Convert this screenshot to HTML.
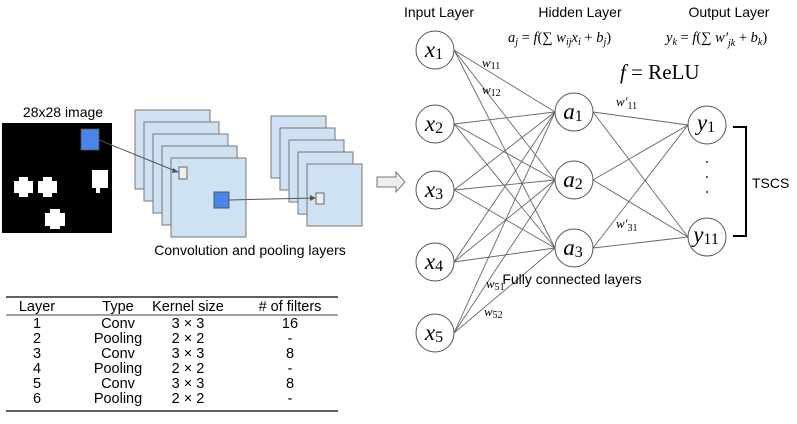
<!DOCTYPE html>
<html><head><meta charset="utf-8"><style>
body{margin:0;background:#fff}
svg{display:block}
.s{font-family:"Liberation Sans",sans-serif}
.m{font-family:"Liberation Serif",serif;font-style:italic}
.r{font-family:"Liberation Serif",serif}
</style></head><body>
<svg width="797" height="424" viewBox="0 0 797 424" xmlns="http://www.w3.org/2000/svg">
<text x="63" y="117" class="s" font-size="14" text-anchor="middle">28x28 image</text>
<rect x="2" y="123" width="110" height="110" fill="#000"/>
<rect x="81" y="129" width="18" height="21" fill="#4a86e8" stroke="#555" stroke-width="0.8"/>
<g fill="#fff">
<rect x="14" y="181" width="19" height="12"/><rect x="19" y="177" width="9" height="20"/>
<rect x="38" y="181" width="19" height="12"/><rect x="43" y="177" width="9" height="20"/>
<rect x="92" y="170" width="16" height="18"/><rect x="96" y="188" width="4" height="5"/>
<rect x="45" y="213" width="20" height="13"/><rect x="50" y="209" width="10" height="20"/>
</g>
<g fill="#cfe2f3" stroke="#777" stroke-width="1">
<rect x="135" y="110" width="75" height="79"/>
<rect x="144" y="122" width="75" height="79"/>
<rect x="153" y="134" width="75" height="79"/>
<rect x="162" y="146" width="75" height="79"/>
<rect x="171" y="158" width="75" height="79"/>
<rect x="271" y="116" width="55" height="62"/>
<rect x="280" y="128" width="55" height="62"/>
<rect x="289" y="140" width="55" height="62"/>
<rect x="298" y="152" width="55" height="62"/>
<rect x="307" y="164" width="55" height="62"/>
</g>
<rect x="179" y="167" width="8" height="12" fill="#eee" stroke="#666"/>
<rect x="214" y="192" width="15" height="16" fill="#4a86e8" stroke="#555"/>
<rect x="316" y="193" width="8" height="11" fill="#eee" stroke="#666"/>
<g stroke="#555" stroke-width="1">
<line x1="99" y1="140" x2="178" y2="172"/><line x1="229" y1="200" x2="315" y2="198"/>
</g>
<polygon points="179,172 173,168 172,173" fill="#555"/>
<polygon points="316,198 310,195 310,201" fill="#555"/>
<text x="250" y="255" class="s" font-size="14" text-anchor="middle">Convolution and pooling layers</text>
<polygon points="377,177 396,177 396,172 405,182 396,192 396,187 377,187" fill="#eee" stroke="#777"/>
<g stroke="#000"><line x1="6" y1="297" x2="338" y2="297" stroke-width="1.2"/><line x1="6" y1="315" x2="338" y2="315" stroke-width="0.8"/><line x1="6" y1="411" x2="338" y2="411" stroke-width="1.2"/></g>
<g class="s" font-size="14.5" text-anchor="middle">
<text x="37" y="311">Layer</text><text x="118" y="311">Type</text><text x="188" y="311">Kernel size</text><text x="290" y="311"># of filters</text>
<text x="37" y="328">1</text><text x="118" y="328">Conv</text><text x="188" y="328">3 × 3</text><text x="290" y="328">16</text>
<text x="37" y="343">2</text><text x="118" y="343">Pooling</text><text x="188" y="343">2 × 2</text><text x="290" y="343">-</text>
<text x="37" y="358">3</text><text x="118" y="358">Conv</text><text x="188" y="358">3 × 3</text><text x="290" y="358">8</text>
<text x="37" y="373">4</text><text x="118" y="373">Pooling</text><text x="188" y="373">2 × 2</text><text x="290" y="373">-</text>
<text x="37" y="388">5</text><text x="118" y="388">Conv</text><text x="188" y="388">3 × 3</text><text x="290" y="388">8</text>
<text x="37" y="403">6</text><text x="118" y="403">Pooling</text><text x="188" y="403">2 × 2</text><text x="290" y="403">-</text>
</g>
<g stroke="#666" stroke-width="0.9">
<line x1="454" y1="50" x2="555" y2="112"/><line x1="454" y1="50" x2="555" y2="180"/><line x1="454" y1="50" x2="555" y2="248"/>
<line x1="454" y1="124" x2="555" y2="112"/><line x1="454" y1="124" x2="555" y2="180"/><line x1="454" y1="124" x2="555" y2="248"/>
<line x1="454" y1="190" x2="555" y2="112"/><line x1="454" y1="190" x2="555" y2="180"/><line x1="454" y1="190" x2="555" y2="248"/>
<line x1="454" y1="262" x2="555" y2="112"/><line x1="454" y1="262" x2="555" y2="180"/><line x1="454" y1="262" x2="555" y2="248"/>
<line x1="454" y1="333" x2="555" y2="112"/><line x1="454" y1="333" x2="555" y2="180"/><line x1="454" y1="333" x2="555" y2="248"/>
<line x1="593" y1="112" x2="688" y2="125"/><line x1="593" y1="112" x2="688" y2="237"/>
<line x1="593" y1="180" x2="688" y2="125"/><line x1="593" y1="180" x2="688" y2="237"/>
<line x1="593" y1="248" x2="688" y2="125"/><line x1="593" y1="248" x2="688" y2="237"/>
</g>
<g fill="#fff" stroke="#555" stroke-width="1">
<circle cx="435" cy="50" r="19"/><circle cx="435" cy="124" r="19"/><circle cx="435" cy="190" r="19"/><circle cx="435" cy="262" r="19"/><circle cx="435" cy="333" r="19"/>
<circle cx="574" cy="112" r="19"/><circle cx="574" cy="180" r="19"/><circle cx="574" cy="248" r="19"/>
<circle cx="707" cy="125" r="19"/><circle cx="707" cy="237" r="19"/>
</g>
<g class="m" font-size="23" text-anchor="middle">
<text x="434" y="57">x<tspan font-size="16" font-style="normal" dy="2">1</tspan></text>
<text x="434" y="131">x<tspan font-size="16" font-style="normal" dy="2">2</tspan></text>
<text x="434" y="197">x<tspan font-size="16" font-style="normal" dy="2">3</tspan></text>
<text x="434" y="269">x<tspan font-size="16" font-style="normal" dy="2">4</tspan></text>
<text x="434" y="340">x<tspan font-size="16" font-style="normal" dy="2">5</tspan></text>
<text x="573" y="119">a<tspan font-size="16" font-style="normal" dy="2">1</tspan></text>
<text x="573" y="187">a<tspan font-size="16" font-style="normal" dy="2">2</tspan></text>
<text x="573" y="255">a<tspan font-size="16" font-style="normal" dy="2">3</tspan></text>
<text x="706" y="130">y<tspan font-size="16" font-style="normal" dy="2">1</tspan></text>
<text x="706" y="242">y<tspan font-size="16" font-style="normal" dy="2">11</tspan></text>
</g>
<g class="m" font-size="13">
<text x="482" y="67">w<tspan font-size="10" font-style="normal" dy="2">11</tspan></text>
<text x="482" y="94">w<tspan font-size="10" font-style="normal" dy="2">12</tspan></text>
<text x="616" y="106">w′<tspan font-size="10" font-style="normal" dy="3">11</tspan></text>
<text x="616" y="228">w′<tspan font-size="10" font-style="normal" dy="3">31</tspan></text>
<text x="486" y="288">w<tspan font-size="10" font-style="normal" dy="2">51</tspan></text>
<text x="484" y="316">w<tspan font-size="10" font-style="normal" dy="2">52</tspan></text>
</g>
<g fill="#333"><circle cx="707" cy="162" r="1"/><circle cx="707" cy="177" r="1"/><circle cx="707" cy="192" r="1"/></g>
<polyline points="733,127 746,127 746,236 733,236" fill="none" stroke="#000" stroke-width="2"/>
<text x="752" y="188" class="s" font-size="14">TSCS</text>
<text x="572" y="284" class="s" font-size="14" text-anchor="middle">Fully connected layers</text>
<g class="s" font-size="14" text-anchor="middle">
<text x="439" y="17">Input Layer</text><text x="580" y="17">Hidden Layer</text><text x="729" y="17">Output Layer</text>
</g>
<text x="508" y="42" class="m" font-size="14.5">a<tspan font-size="10" dy="3">j</tspan><tspan dy="-3" font-style="normal"> = </tspan>f<tspan font-style="normal">(∑ </tspan>w<tspan font-size="10" dy="3">ij</tspan><tspan dy="-3">x</tspan><tspan font-size="10" dy="3">i</tspan><tspan dy="-3" font-style="normal"> + </tspan>b<tspan font-size="10" dy="3">j</tspan><tspan dy="-3" font-style="normal">)</tspan></text>
<text x="666" y="42" class="m" font-size="14.5">y<tspan font-size="10" dy="3">k</tspan><tspan dy="-3" font-style="normal"> = </tspan>f<tspan font-style="normal">(∑ </tspan>w′<tspan font-size="10" dy="4">jk</tspan><tspan dy="-4" font-style="normal"> + </tspan>b<tspan font-size="10" dy="3">k</tspan><tspan dy="-3" font-style="normal">)</tspan></text>
<text x="620" y="79" class="m" font-size="21">f<tspan font-style="normal"> = ReLU</tspan></text>
</svg>
</body></html>
